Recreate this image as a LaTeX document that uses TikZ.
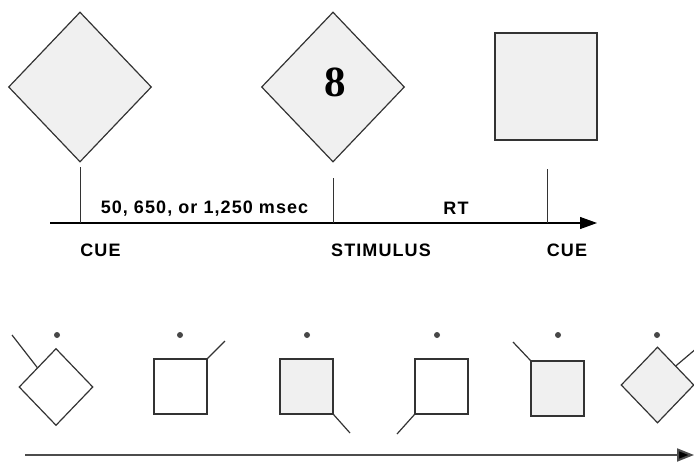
\documentclass[tikz,border=0pt]{standalone}
\usepackage{fontspec}
\setmainfont{Liberation Sans}
\newfontfamily\labelfont[LetterSpace=6]{Liberation Sans}
\newfontfamily\digitfont{Liberation Serif}
\usetikzlibrary{shapes.geometric,arrows.meta}
\definecolor{edge}{HTML}{333333}
\definecolor{panel}{HTML}{F0F0F0}
\tikzset{
  shapeline/.style={draw=edge, line width=1.2pt},
  bigdiamond/.style={shapeline, shape=diamond, fill=panel, inner sep=0pt,
    minimum width=143pt, minimum height=150pt},
  bigsquare/.style={shapeline, shape=rectangle, fill=panel, inner sep=0pt,
    minimum width=102pt, minimum height=107pt},
  smalldiamond/.style={shapeline, shape=diamond, inner sep=0pt,
    minimum width=74pt, minimum height=77pt},
  smallsquare/.style={shapeline, shape=rectangle, inner sep=0pt,
    minimum width=53pt, minimum height=55pt},
  shaded/.style={fill=panel},
  tick/.style={draw=edge, line width=0.9pt},
  stick/.style={draw=edge, line width=1.2pt},
  fixdot/.style={circle, fill=edge!90!white, inner sep=0pt, minimum size=6pt},
  label/.style={font=\labelfont\fontsize{18}{20}\selectfont\bfseries, text=black, inner sep=0pt},
  timeaxis/.style={draw=black, line width=1.1pt, -{Triangle[length=17pt,width=12pt]}},
  longaxis/.style={draw=black!70, line width=2pt, -{Triangle[length=17pt,width=13pt,fill=black]}},
}
\begin{document}
\begin{tikzpicture}[x=1pt,y=-1pt]
\useasboundingbox (0,0) rectangle (694,463);

% --- trial sequence: cue, stimulus, next cue ---
\node[bigdiamond] (cue1) at (80,87) {};
\node[bigdiamond] (stim) at (333,87) {};
\node[font=\digitfont\bfseries\fontsize{43}{43}\selectfont, inner sep=0pt] (eight) at (335,82.5) {8};
\node[bigsquare] (cue2) at (546,86.5) {};

\coordinate (axstart) at (50,223);
\coordinate (axend) at (597,223);
\draw[timeaxis] (axstart) -- (axend);

\coordinate (t1top) at (80,167);   \coordinate (t1) at (80,223);
\coordinate (t2top) at (333,178);  \coordinate (t2) at (333,223);
\coordinate (t3top) at (547,169);  \coordinate (t3) at (547,223);
\draw[tick] (t1top) -- (t1);
\draw[tick] (t2top) -- (t2);
\draw[tick] (t3top) -- (t3);

\node[label] (soa) at (204.5,208.5) {50, 650, or 1,250 msec};
\node[label] (rt) at (456,208.5) {RT};
\node[label] (cuelab1) at (100.5,250) {CUE};
\node[label] (stimlab) at (381,250) {STIMULUS};
\node[label] (cuelab2) at (567,250) {CUE};

% --- sequence of cue frames with fixation dot and pointer ---
\node[smalldiamond] (f1) at (56,387) {};
\node[smallsquare] (f2) at (180.5,386.5) {};
\node[smallsquare, shaded] (f3) at (306.5,386.5) {};
\node[smallsquare] (f4) at (441.5,386.5) {};
\node[smallsquare, shaded] (f5) at (557.5,388.5) {};
\node[smalldiamond, shaded, minimum width=73pt, minimum height=76pt] (f6) at (657.5,385) {};

\foreach \n/\x in {d1/57, d2/180, d3/307, d4/437, d5/558, d6/657}
  \node[fixdot] (\n) at (\x,335) {};

\coordinate (p1) at (12,335);
\coordinate (p2) at (225,341);
\coordinate (p3) at (350,433);
\coordinate (p4) at (397,434);
\coordinate (p5) at (513,342);
\coordinate (p6) at (710,337);
\draw[stick] (f1.north west) -- (p1);
\draw[stick] (f2.north east) -- (p2);
\draw[stick] (f3.south east) -- (p3);
\draw[stick] (f4.south west) -- (p4);
\draw[stick] (f5.north west) -- (p5);
\draw[stick] (f6.north east) -- (p6);

\coordinate (lstart) at (25,455);
\coordinate (lend) at (694,455);
\draw[longaxis] (lstart) -- (lend);
\end{tikzpicture}
\end{document}
